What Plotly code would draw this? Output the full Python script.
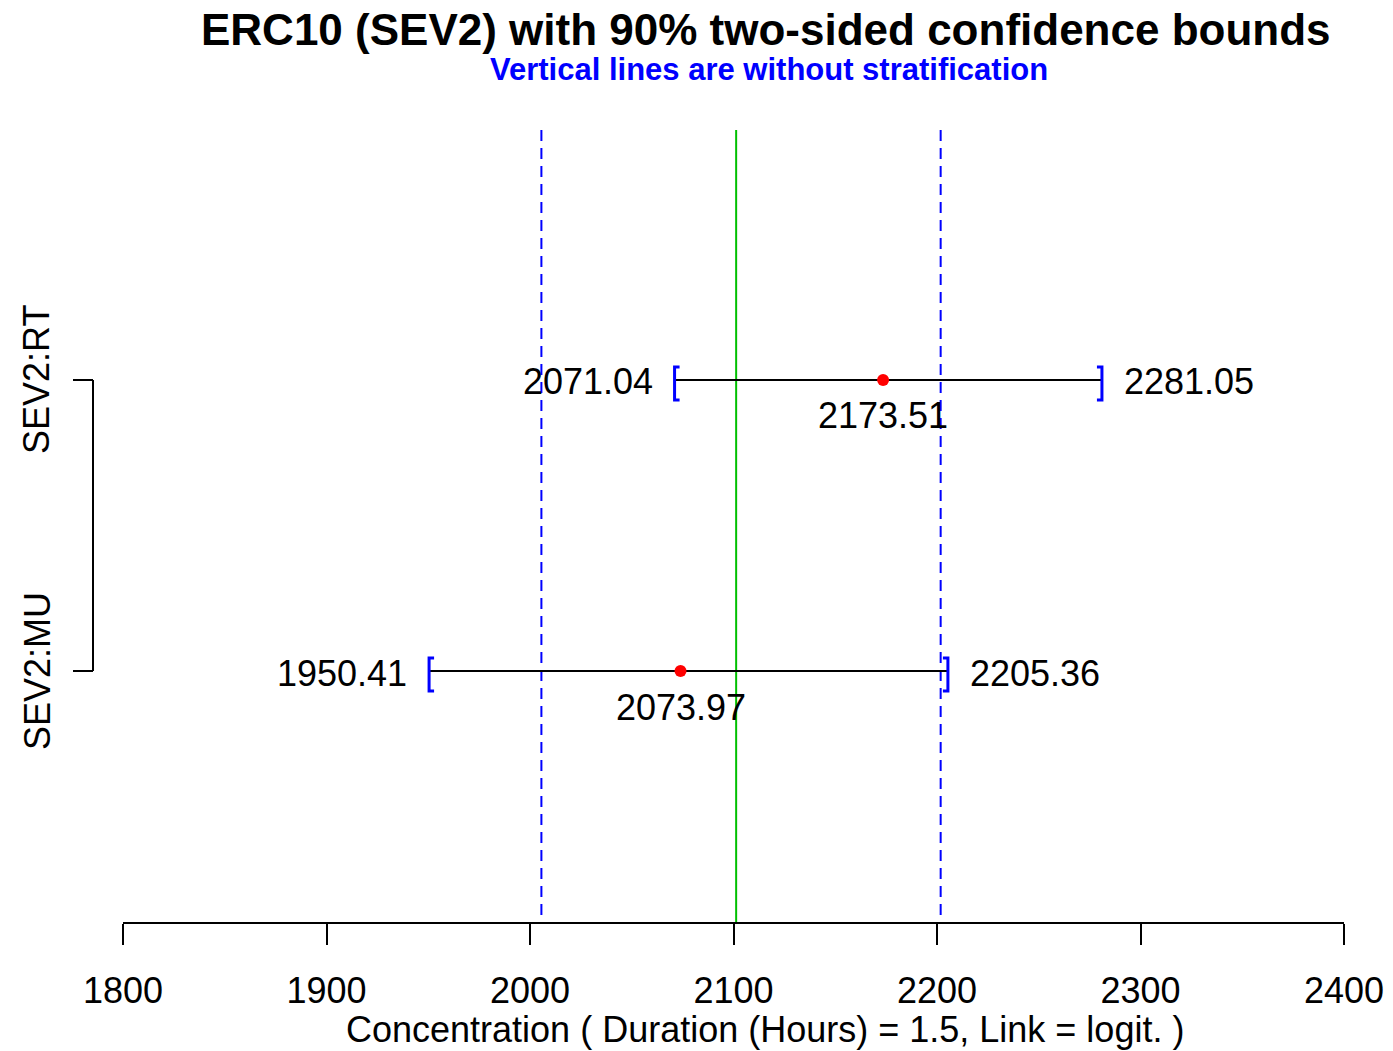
import plotly.graph_objects as go

# ---- data ----
groups = ["SEV2:MU", "SEV2:RT"]
group_pos = [1, 2]
estimates = [2073.97, 2173.51]
lower_bounds = [1950.41, 2071.04]
upper_bounds = [2205.36, 2281.05]
est_labels = ["2073.97", "2173.51"]
lower_labels = ["1950.41", "2071.04"]
upper_labels = ["2205.36", "2281.05"]
# vertical reference lines (without stratification): lower, estimate, upper
ref_lines = [2005.6, 2101.3, 2201.8]
x_ticks = [1800, 1900, 2000, 2100, 2200, 2300, 2400]

FONT = "Liberation Sans, Arial, sans-serif"
# page is rendered with an 8px body margin
W, H = 1385, 1043
L, R, T, B = 115, 49, 122, 129
PW, PH = W - L - R, H - T - B
# plot-area position on the page (pixels)
PX0, PY1 = 123, 922


def px2paper_x(px):
    return (px - PX0) / PW


def px2paper_y(py):
    return (PY1 - py) / PH


fig = go.Figure()

# confidence interval lines
for g, lo, hi in zip(group_pos, lower_bounds, upper_bounds):
    fig.add_trace(go.Scatter(x=[lo, hi], y=[g, g], mode="lines",
                             line=dict(color="black", width=2),
                             hoverinfo="skip", showlegend=False))

# point estimates
fig.add_trace(go.Scatter(x=estimates, y=group_pos, mode="markers",
                         marker=dict(color="#FF0000", size=12),
                         showlegend=False))

shapes = []
# reference vertical lines
for i, v in enumerate(ref_lines):
    if i == 1:
        line = dict(color="#00C000", width=2)
    else:
        line = dict(color="#0000FF", width=2, dash="11px,7px")
    shapes.append(dict(type="line", xref="x", yref="paper", x0=v, x1=v,
                       y0=1, y1=0, line=line, layer="below"))

# brackets at bounds
for g, lo, hi in zip(group_pos, lower_bounds, upper_bounds):
    shapes.append(dict(type="path", xref="x", yref="y",
                       xsizemode="pixel", ysizemode="pixel",
                       xanchor=lo, yanchor=g,
                       path="M 5,13 L 0,13 L 0,-20 L 5,-20",
                       line=dict(color="#0000FF", width=3)))
    shapes.append(dict(type="path", xref="x", yref="y",
                       xsizemode="pixel", ysizemode="pixel",
                       xanchor=hi, yanchor=g,
                       path="M -5,13 L 0,13 L 0,-20 L -5,-20",
                       line=dict(color="#0000FF", width=3)))

# R-style y axis bracket
ax_x = px2paper_x(93)
tk_x = px2paper_x(73)
shapes.append(dict(type="line", xref="paper", yref="y", x0=ax_x, x1=ax_x,
                   y0=group_pos[0], y1=group_pos[-1],
                   line=dict(color="black", width=2)))
for g in group_pos:
    shapes.append(dict(type="line", xref="paper", yref="y", x0=tk_x, x1=ax_x,
                       y0=g, y1=g, line=dict(color="black", width=2)))

annotations = []
for g, e, lo, hi, el, ll, ul in zip(group_pos, estimates, lower_bounds,
                                     upper_bounds, est_labels, lower_labels,
                                     upper_labels):
    annotations.append(dict(x=lo, y=g, xref="x", yref="y", text=ll,
                            showarrow=False, xanchor="right", yanchor="middle",
                            xshift=-20, yshift=-2,
                            font=dict(family=FONT, size=36, color="black")))
    annotations.append(dict(x=hi, y=g, xref="x", yref="y", text=ul,
                            showarrow=False, xanchor="left", yanchor="middle",
                            xshift=20, yshift=-2,
                            font=dict(family=FONT, size=36, color="black")))
    annotations.append(dict(x=e, y=g, xref="x", yref="y", text=el,
                            showarrow=False, xanchor="center", yanchor="middle",
                            yshift=-36,
                            font=dict(family=FONT, size=36, color="black")))
    annotations.append(dict(x=px2paper_x(37), y=g, xref="paper", yref="y",
                            text=groups[group_pos.index(g)], textangle=-90,
                            showarrow=False, xanchor="center", yanchor="middle",
                            font=dict(family=FONT, size=36, color="black")))

annotations.append(dict(x=px2paper_x(766), y=px2paper_y(30), xref="paper",
                        yref="paper", showarrow=False,
                        text="<b>ERC10 (SEV2) with 90% two-sided confidence bounds</b>",
                        xanchor="center", yanchor="middle",
                        font=dict(family=FONT, size=44, color="black")))
annotations.append(dict(x=px2paper_x(769), y=px2paper_y(69), xref="paper",
                        yref="paper", showarrow=False,
                        text="<b>Vertical lines are without stratification</b>",
                        xanchor="center", yanchor="middle",
                        font=dict(family=FONT, size=31, color="#0000FF")))
annotations.append(dict(x=px2paper_x(765), y=px2paper_y(1030), xref="paper",
                        yref="paper", showarrow=False,
                        text="Concentration ( Duration (Hours) = 1.5, Link = logit. )",
                        xanchor="center", yanchor="middle",
                        font=dict(family=FONT, size=36, color="black")))

fig.update_layout(
    width=W, height=H,
    margin=dict(l=L, r=R, t=T, b=B, autoexpand=False),
    paper_bgcolor="white", plot_bgcolor="white",
    shapes=shapes, annotations=annotations,
    showlegend=False,
    xaxis=dict(range=[1800, 2400], tickvals=x_ticks,
               ticktext=[str(v) for v in x_ticks],
               showgrid=False, zeroline=False, showline=True,
               linecolor="black", linewidth=2,
               ticks="outside", ticklen=21, tickwidth=2, tickcolor="black",
               tickfont=dict(family=FONT, size=36, color="black"),
               ticklabelstandoff=15),
    yaxis=dict(range=[0.1375, 2.859], showgrid=False, zeroline=False,
               showline=False, showticklabels=False, ticks=""),
)

fig.write_html("out.html")
